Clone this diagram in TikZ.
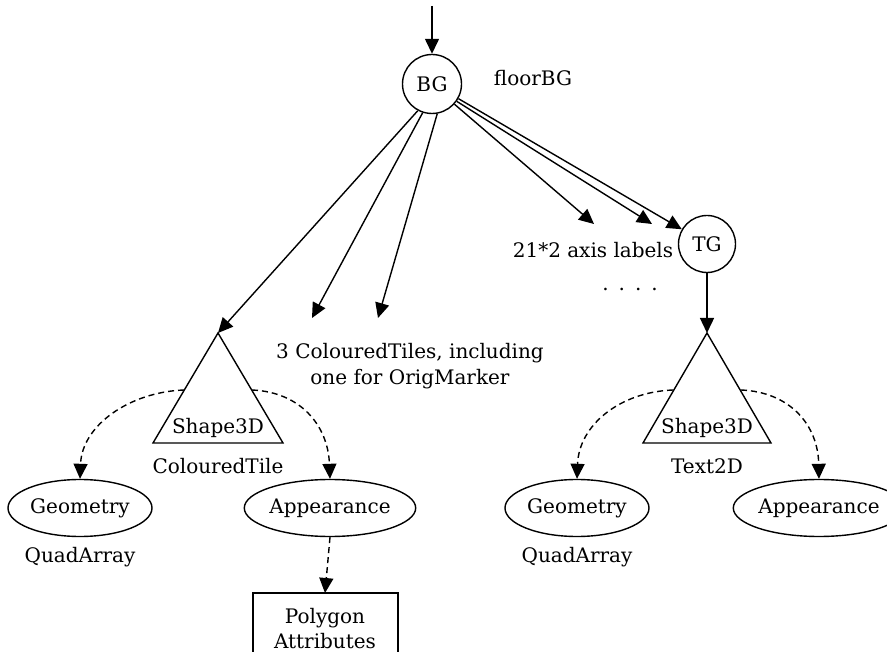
\documentclass[tikz,border=0pt]{standalone}
\usepackage{fontspec}
\setmainfont{DejaVu Serif}
\usetikzlibrary{arrows.meta,shapes.geometric}
\begin{document}
\begin{tikzpicture}[x=1pt,y=-1pt,
  font=\fontsize{20}{24}\selectfont,
  line width=1.4pt,
  arr/.style={-{Triangle[length=15pt,width=14pt]}},
  darr/.style={arr,dash pattern=on 6pt off 4pt},
  grp/.style={circle,draw,minimum size=59pt,inner sep=0pt},
  comp/.style={ellipse,draw,minimum width=144pt,minimum height=57pt,inner sep=0pt},
  lbl/.style={inner sep=0pt}]
\useasboundingbox (0,0) rectangle (887,652);
\clip (0,0) rectangle (887,652);

% branch groups
\node[grp] (BG) at (432,84) {BG};
\node[lbl] (bgname) at (533,78) {floorBG};
\node[grp,minimum size=57pt] (TG) at (707,244) {TG};
\coordinate (top) at (432,6);

% Shape3D triangles
\coordinate (s1) at (218,333);
\draw (s1) -- (153,443) -- (283,443) -- cycle;
\node[lbl] (s1t) at (218,428) {Shape3D};
\node[lbl] (s1n) at (218,466) {ColouredTile};
\coordinate (s1l) at (184,390);
\coordinate (s1r) at (252,390);

\coordinate (s2) at (707,333);
\draw (s2) -- (643,443) -- (771,443) -- cycle;
\node[lbl] (s2t) at (707,428) {Shape3D};
\node[lbl] (s2n) at (707,466) {Text2D};
\coordinate (s2l) at (673,390);
\coordinate (s2r) at (741,390);

% leaf components
\node[comp] (geo1) at (80,508) {Geometry};
\node[lbl] (geo1n) at (80,557) {QuadArray};
\node[comp] (app1) at (330,508) {Appearance};
\node[comp] (geo2) at (577,508) {Geometry};
\node[lbl] (geo2n) at (577,557) {QuadArray};
\node[comp,minimum width=134pt] (app2) at (819,508) {Appearance};
\draw (253,665) -- (253,593) coordinate (pa) -- (398,593) -- (398,665);
\node[lbl,align=center] (patxt) at (325,629) {Polygon\\[1pt]Attributes};
\coordinate (pat) at (325,593);

% other children
\node[lbl,align=center] (tiles) at (410,366) {3 ColouredTiles, including\\[2pt]one for OrigMarker};
\coordinate (t1) at (312,318);
\coordinate (t2) at (378,318);
\node[lbl] (axis) at (593,250) {21*2 axis labels};
\coordinate (a1) at (594,224);
\coordinate (a2) at (652,224);
\node[lbl,anchor=base] (dots) at (630,291) {.\,\,\,.\,\,\,.\,\,\,.};

% solid arrows
\draw[arr] (top) -- (BG);
\draw[arr] (BG.-118) -- (s1);
\draw[arr] (BG.-108) -- (t1);
\draw[arr] (BG.-80) -- (t2);
\draw[arr] (BG.-42) -- (a1);
\draw[arr] (BG.-35) -- (a2);
\draw[arr] (BG.-29) -- (TG);
\draw[arr] (TG) -- (s2);

% dashed arrows
\draw[darr] (s1l) .. controls (130,392) and (82,425) .. (geo1.north);
\draw[darr] (s1r) .. controls (300,392) and (328,425) .. (app1.north);
\draw[darr] (s2l) .. controls (620,392) and (579,425) .. (geo2.north);
\draw[darr] (s2r) .. controls (790,392) and (818,425) .. (app2.north);
\draw[darr] (app1.south) -- (pat);
\end{tikzpicture}
\end{document}
